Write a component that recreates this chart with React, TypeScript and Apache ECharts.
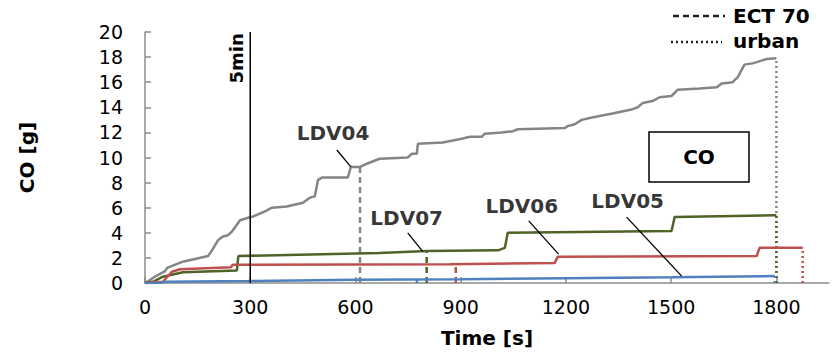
import React, { useEffect, useRef } from "react";
import * as echarts from "echarts";

// Cumulative CO mass [g] over test time [s], one list of [time, value] per vehicle
const ldv04: [number, number][] = [
  [0, 0], [14, 0.24], [28, 0.5], [57, 0.95], [63, 1.2], [108, 1.7], [180, 2.15], [191, 2.6],
  [208, 3.4], [222, 3.7], [236, 3.8], [248, 4.1], [271, 5.0], [294, 5.2], [308, 5.3], [342, 5.7],
  [362, 6.0], [404, 6.1], [450, 6.4], [470, 6.8], [484, 6.9], [493, 8.2], [504, 8.4], [578, 8.4],
  [587, 9.25], [613, 9.25], [632, 9.5], [669, 9.9], [749, 10.0], [761, 10.3], [775, 10.3],
  [778, 11.1], [849, 11.2], [903, 11.5], [926, 11.65], [960, 11.65], [969, 11.9], [1017, 12.0],
  [1049, 12.1], [1063, 12.25], [1197, 12.35], [1205, 12.5], [1225, 12.65], [1245, 13.0],
  [1268, 13.15], [1296, 13.3], [1333, 13.5], [1390, 13.85], [1405, 14.0], [1419, 14.35],
  [1447, 14.5], [1467, 14.8], [1501, 14.9], [1519, 15.4], [1581, 15.5], [1630, 15.6],
  [1644, 15.9], [1675, 16.0], [1690, 16.4], [1709, 17.4], [1732, 17.5], [1744, 17.6],
  [1772, 17.85], [1800, 17.9],
];
const ldv07: [number, number][] = [
  [0, 0], [23, 0.1], [51, 0.5], [108, 0.85], [262, 1.0], [266, 2.15], [669, 2.4], [803, 2.55],
  [1006, 2.6], [1026, 2.8], [1034, 4.0], [1501, 4.15], [1510, 5.25], [1800, 5.4],
];
const ldv06: [number, number][] = [
  [0, 0], [51, 0.1], [77, 0.9], [100, 1.1], [245, 1.25], [250, 1.45], [869, 1.5], [1168, 1.6],
  [1177, 2.1], [1744, 2.15], [1752, 2.8], [1875, 2.8],
];
const ldv05: [number, number][] = [
  [0, 0], [40, 0], [60, 0.1], [300, 0.15], [600, 0.25], [900, 0.3], [1200, 0.38], [1500, 0.45],
  [1795, 0.55],
];

const vehicles = ["LDV04", "LDV07", "LDV06", "LDV05"];
const curves = [ldv04, ldv07, ldv06, ldv05];
const colors = ["#858585", "#4f6228", "#c0504d", "#4f81bd"];

// Time at which coolant reaches 70 °C, and end of the urban part, per vehicle
const ectTimes = [613, 803, 886, 775];
const ectLevels = [9.25, 2.55, 1.3, 0.3];
const urbanTimes = [1800, 1800, 1875, 1795];
const urbanLevels = [17.9, 5.4, 2.8, 0.55];

// Vehicle name labels and their leader lines, in data coordinates
const nameAnchors: [number, number][] = [[536, 11.95], [746, 5.2], [1074, 6.15], [1376, 6.55]];
const leaderStarts: [number, number][] = [[547, 10.6], [749, 4.0], [1094, 4.95], [1373, 5.25]];
const leaderEnds: [number, number][] = [[587, 9.25], [792, 2.5], [1179, 2.3], [1530, 0.55]];

const timeTicks = [0, 300, 600, 900, 1200, 1500, 1800];
const fiveMinTime = 300;
const fiveMinLabelAt: [number, number] = [262, 17.9];
const yMax = 20;

const FONT = "DejaVu Sans";

export default function App() {
  const ref = useRef<HTMLDivElement>(null);

  useEffect(() => {
    const chart = echarts.init(ref.current!, null, { renderer: "svg" });

    const series: any[] = [];

    curves.forEach((data, i) => {
      series.push({
        type: "line",
        name: vehicles[i],
        data,
        showSymbol: false,
        lineStyle: { color: colors[i], width: 2.5 },
        z: 3,
      });
    });

    curves.forEach((_, i) => {
      series.push({
        type: "line",
        data: [[ectTimes[i], 0], [ectTimes[i], ectLevels[i]]],
        showSymbol: false,
        lineStyle: { color: colors[i], width: 2.5, type: [6, 4] },
        z: 2,
      });
      series.push({
        type: "line",
        data: [[urbanTimes[i], 0], [urbanTimes[i], urbanLevels[i]]],
        showSymbol: false,
        lineStyle: { color: colors[i], width: 2.5, type: [2, 3] },
        z: 2 + i * 0.1,
      });
    });

    // 5 min marker
    series.push({
      type: "line",
      data: [[fiveMinTime, 0], [fiveMinTime, yMax]],
      showSymbol: false,
      lineStyle: { color: "#000", width: 1.5 },
      z: 4,
    });

    // leader lines and vehicle names
    vehicles.forEach((name, i) => {
      series.push({
        type: "line",
        data: [leaderStarts[i], leaderEnds[i]],
        showSymbol: false,
        lineStyle: { color: "#000", width: 1.3 },
        z: 5,
      });
      series.push({
        type: "scatter",
        data: [nameAnchors[i]],
        symbolSize: 0,
        label: {
          show: true,
          position: "inside",
          formatter: name,
          color: "#000",
          fontFamily: FONT,
          fontWeight: "bold",
          fontSize: 20,
        },
        z: 5,
      });
    });

    const axisGrey = "#8c8c8c";

    chart.setOption({
      animation: false,
      grid: { left: 145, right: 3, top: 32, bottom: 72 },
      xAxis: {
        type: "value",
        min: 0,
        max: 1950,
        interval: 300,
        name: "Time [s]",
        nameLocation: "middle",
        nameGap: 45,
        nameTextStyle: { fontFamily: FONT, fontWeight: "bold", fontSize: 20, color: "#000" },
        axisLine: { show: true, lineStyle: { color: axisGrey, width: 1.5 } },
        axisTick: {
          show: true,
          inside: true,
          length: 6,
          customValues: timeTicks,
          lineStyle: { color: axisGrey, width: 1.5 },
        },
        axisLabel: {
          margin: 14,
          fontFamily: FONT,
          fontSize: 19,
          color: "#000",
          customValues: timeTicks,
          formatter: (v: number) => (v % 300 === 0 ? String(v) : ""),
        },
        splitLine: { show: false },
      },
      yAxis: {
        type: "value",
        min: 0,
        max: yMax,
        interval: 2,
        name: "CO [g]",
        nameLocation: "middle",
        nameGap: 108,
        nameRotate: 90,
        nameTextStyle: { fontFamily: FONT, fontWeight: "bold", fontSize: 20, color: "#000" },
        axisLine: { show: true, lineStyle: { color: axisGrey, width: 1.5 } },
        axisTick: { show: true, inside: true, length: 6, lineStyle: { color: axisGrey, width: 1.5 } },
        axisLabel: { margin: 22, fontFamily: FONT, fontSize: 19, color: "#000" },
        splitLine: { show: false },
      },
      graphic: [
        // legend for the vertical marker styles
        {
          type: "line",
          shape: { x1: 673, y1: 16, x2: 725, y2: 16 },
          style: { stroke: "#222", lineWidth: 2.5, lineDash: [6, 4] },
        },
        {
          type: "text",
          x: 733,
          y: 16,
          style: { text: "ECT 70", fill: "#000", font: `bold 20px "${FONT}"`, textVerticalAlign: "middle" },
        },
        {
          type: "line",
          shape: { x1: 671, y1: 42, x2: 722, y2: 42 },
          style: { stroke: "#222", lineWidth: 2.5, lineDash: [2, 3] },
        },
        {
          type: "text",
          x: 733,
          y: 41,
          style: { text: "urban", fill: "#000", font: `bold 20px "${FONT}"`, textVerticalAlign: "middle" },
        },
        // pollutant tag box
        {
          type: "rect",
          shape: { x: 649, y: 132, width: 100, height: 50 },
          style: { fill: "#fff", stroke: "#000", lineWidth: 1.5 },
        },
        {
          type: "text",
          x: 699,
          y: 157,
          style: {
            text: "CO",
            fill: "#000",
            font: `bold 20px "${FONT}"`,
            textAlign: "center",
            textVerticalAlign: "middle",
          },
        },
      ],
      series,
    });

    // vertical "5min" caption beside the marker line, placed through the grid's scales
    const p = chart.convertToPixel({ gridIndex: 0 }, fiveMinLabelAt) as number[];
    chart.setOption({
      graphic: {
        elements: [
          {
            id: "fiveMinLabel",
            type: "text",
            x: p[0],
            y: p[1],
            rotation: Math.PI / 2,
            style: {
              text: "5min",
              fill: "#000",
              font: `bold 18px "${FONT}"`,
              textAlign: "center",
              textVerticalAlign: "middle",
            },
            z: 10,
          },
        ],
      },
    });

    return () => chart.dispose();
  }, []);

  return (
    <div
      ref={ref}
      style={{ position: "fixed", left: 0, top: 0, width: 832, height: 355, background: "#fff" }}
    />
  );
}
